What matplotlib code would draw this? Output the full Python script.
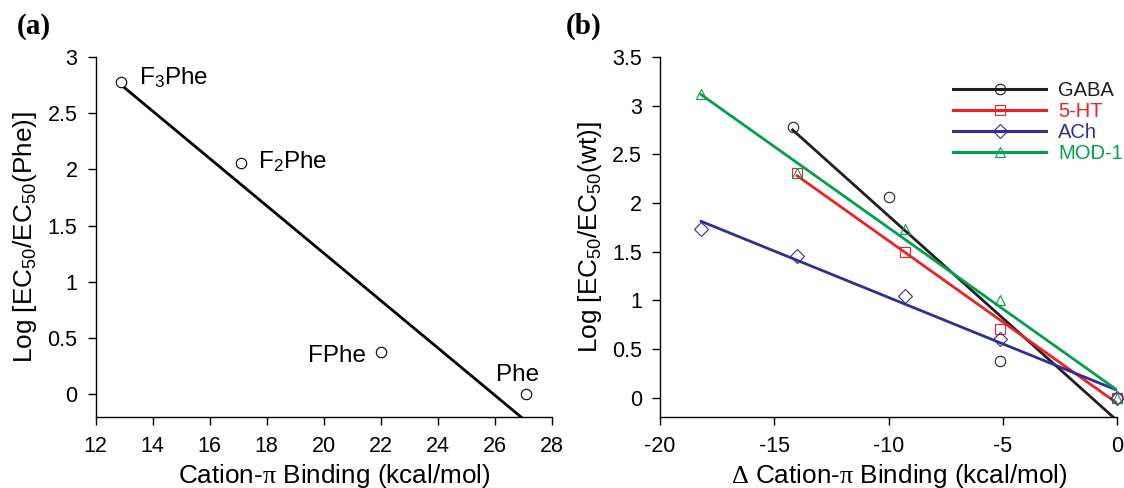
import numpy as np
import matplotlib
matplotlib.use('Agg')
import matplotlib.pyplot as plt
from matplotlib.ticker import FormatStrFormatter, MultipleLocator

plt.rcParams['font.family'] = ['Liberation Sans', 'DejaVu Sans']
plt.rcParams['mathtext.fontset'] = 'custom'
plt.rcParams['mathtext.rm'] = 'Liberation Serif'
plt.rcParams['mathtext.it'] = 'Liberation Serif:italic'
plt.rcParams['mathtext.default'] = 'regular'
plt.rcParams['axes.unicode_minus'] = False

# panel (a): cation-pi binding vs log EC50 ratio
binding = [12.9, 17.1, 22.0, 27.1]
log_ratio = [2.78, 2.06, 0.38, 0.0]
names = ['F$_3$Phe', 'F$_2$Phe', 'FPhe', 'Phe']

# panel (b): delta binding for each receptor
gaba_x = [-14.2, -10.0, -5.1, 0.0]
gaba_y = [2.78, 2.06, 0.38, 0.0]
ht5_x = [-14.0, -9.3, -5.1, 0.0]
ht5_y = [2.31, 1.50, 0.70, 0.0]
ach_x = [-18.2, -14.0, -9.3, -5.1, 0.0]
ach_y = [1.73, 1.45, 1.04, 0.60, 0.0]
mod_x = [-18.2, -14.0, -9.3, -5.1, 0.0]
mod_y = [3.12, 2.31, 1.73, 1.00, 0.0]

series = [
    ('GABA', gaba_x, gaba_y, 'o', '#231f20'),
    ('5-HT', ht5_x, ht5_y, 's', '#ec2227'),
    ('ACh', ach_x, ach_y, 'D', '#2e3192'),
    ('MOD-1', mod_x, mod_y, '^', '#00a14b'),
]

fig = plt.figure(figsize=(11.24, 4.88), dpi=100)
ax1 = fig.add_axes([0.0850, 0.1455, 0.4057, 0.7377])
ax2 = fig.add_axes([0.5872, 0.1455, 0.4066, 0.7377])

TICK_FS = 15.5
LABEL_FS = 18.8
MS = 7.5


def style(ax):
    for s in ['top', 'right']:
        ax.spines[s].set_visible(False)
    for s in ['left', 'bottom']:
        ax.spines[s].set_linewidth(1.0)
    ax.tick_params(direction='out', length=5.5, width=1.0, labelsize=TICK_FS)
    ax.tick_params(axis='x', pad=8)
    ax.tick_params(axis='y', pad=7.5)
    ax.yaxis.set_major_formatter(FormatStrFormatter('%g'))
    ax.xaxis.label.set_x(0.524)


def fit_line(ax, x, y, color):
    k, b = np.polyfit(x, y, 1)
    xs = np.array([min(x), max(x)])
    ax.plot(xs, k * xs + b, color=color, lw=2.0, zorder=2)


# --- (a)
fit_line(ax1, binding, log_ratio, 'black')
ax1.plot(binding, log_ratio, 'o', mfc='white', mec='black', ms=MS, mew=0.8,
         clip_on=False, zorder=3)
offsets = [(13, -1.4), (12.2, -3.6), (-10.8, -7.2), (-5.8, 10)]
aligns = ['left', 'left', 'right', 'center']
for x, y, n, off, ha in zip(binding, log_ratio, names, offsets, aligns):
    ax1.annotate(n, (x, y), xytext=off, textcoords='offset points',
                 ha=ha, va='baseline', fontsize=17.5)
ax1.set_xlim(12, 28)
ax1.set_ylim(-0.2, 3)
ax1.xaxis.set_major_locator(MultipleLocator(2))
ax1.yaxis.set_major_locator(MultipleLocator(0.5))
ax1.set_xlabel(r'Cation-$\mathrm{\pi}$ Binding (kcal/mol)', fontsize=LABEL_FS, labelpad=3.5)
ax1.set_ylabel('Log [EC$_{50}$/EC$_{50}$(Phe)]', fontsize=LABEL_FS, labelpad=6)
style(ax1)

# --- (b)
for name, x, y, m, c in series:
    ms = MS if m != 'D' else 6.8
    fit_line(ax2, x, y, c)
    ax2.plot(x, y, m, mfc='none', mec=c, ms=ms, mew=0.8, clip_on=False, zorder=3)
    ax2.plot([], [], '-', marker=m, color=c, mfc='none', mec=c, lw=2.2,
             ms=ms, mew=0.8, label=name)
ax2.set_xlim(-20, 0)
ax2.set_ylim(-0.2, 3.5)
ax2.xaxis.set_major_locator(MultipleLocator(5))
ax2.yaxis.set_major_locator(MultipleLocator(0.5))
ax2.set_xlabel(r'$\mathrm{\Delta}$ Cation-$\mathrm{\pi}$ Binding (kcal/mol)',
               fontsize=LABEL_FS, labelpad=3.5)
ax2.set_ylabel('Log [EC$_{50}$/EC$_{50}$(wt)]', fontsize=LABEL_FS, labelpad=6)
style(ax2)
leg = ax2.legend(loc='upper left', bbox_to_anchor=(0.8483, 0.834),
                 bbox_transform=fig.transFigure, frameon=False, fontsize=14.5,
                 handlelength=4.6, handletextpad=0.6, labelspacing=0.1,
                 borderpad=0, borderaxespad=0)
for t, (_, _, _, _, c) in zip(leg.get_texts(), series):
    t.set_color(c)

fig.text(0.015, 0.932, '(a)', fontsize=21, fontweight='bold',
         family='Liberation Serif', va='baseline')
fig.text(0.503, 0.932, '(b)', fontsize=21, fontweight='bold',
         family='Liberation Serif', va='baseline')

fig.savefig('out.png', dpi=100)
